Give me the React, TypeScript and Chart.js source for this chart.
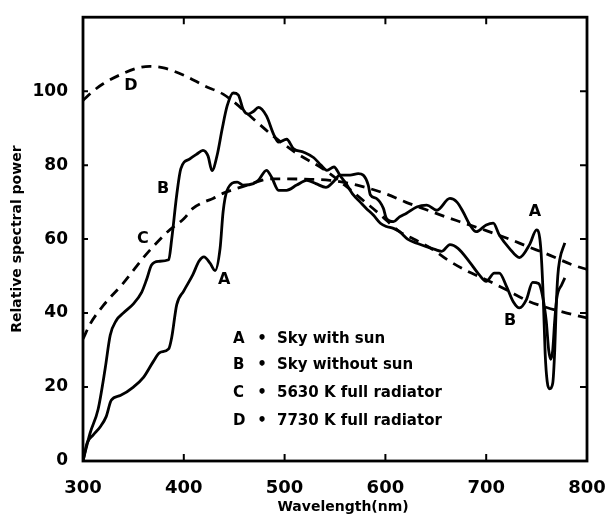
import React, { useEffect, useRef } from "react";
import { Chart, registerables } from "chart.js";

Chart.register(...registerables);

// Curve A: sky with sun
const aWave = [300, 304, 310, 317, 323, 328, 337, 350, 360, 370, 376, 385, 388, 393, 400, 409, 415, 420, 426, 431, 436, 439, 443, 453, 459, 469, 474, 482, 487, 494, 502, 512, 522, 531, 541, 548, 555, 565, 573, 578, 583, 585, 591, 598, 601, 608, 614, 621, 631, 641, 651, 664, 671, 677, 684, 690, 700, 707, 713, 723, 733, 743, 750, 754, 756.5, 758.5, 760.5, 763, 766, 768, 769.5, 771, 773, 778];
const aPower = [0, 4.8, 7, 9.2, 12, 16.4, 17.7, 20, 22.6, 27, 29.3, 30.3, 33.4, 42.3, 46, 50.4, 54, 55.2, 53.5, 51.5, 57.5, 67.4, 73.2, 75.4, 74.6, 75, 75.9, 78.6, 76.8, 73.2, 73.2, 74.6, 75.9, 75, 74, 75.4, 77.3, 77.3, 77.7, 77.3, 74.6, 72, 71, 68.3, 65.6, 64.7, 66, 67, 68.7, 69.2, 67.8, 71, 70, 67.4, 63.8, 62, 63.8, 64.3, 61.1, 57.5, 55, 58.5, 62.5, 58, 45, 29, 21.5, 19.5, 21, 30, 42, 50, 54.5, 59];

// Curve B: sky without sun
const bWave = [300, 307, 315, 322, 327, 333, 340, 350, 358, 363, 368, 375, 385, 388, 393, 397, 406, 413, 419, 424, 428, 433, 438, 443, 449, 454, 459, 464, 469, 474, 482, 489, 494, 502, 509, 519, 529, 536, 542, 549, 555, 560, 568, 575, 581, 588, 595, 601, 608, 614, 622, 632, 649, 656, 664, 672, 683, 693, 700, 708, 713, 720, 727, 733, 740, 746, 752, 756, 759.5, 762, 764, 766, 768, 770, 775, 778];
const bPower = [0, 7.5, 14, 25, 34, 38, 40, 42.5, 45.5, 49, 53, 54, 54.4, 60, 72, 79, 81.7, 83, 84, 82.5, 78.5, 82.6, 89.7, 96, 99.5, 99, 95, 93.8, 94.5, 95.6, 93.3, 88.4, 86.2, 87, 84.4, 83.5, 82, 80, 78.6, 79.5, 77.2, 75.4, 72, 70, 68.3, 66.5, 64.3, 63.4, 62.9, 62, 60, 58.8, 57.2, 56.7, 58.5, 57.5, 54, 50.4, 48.6, 50.8, 50.8, 47.3, 43, 41.4, 43.7, 48.3, 48, 44.5, 38, 30, 27.5, 30, 38, 44, 47.7, 49.5];

// Curve C: 5630 K full radiator
const cWave = [300, 307, 320, 340, 360, 368, 384, 400, 409, 420, 429, 440, 460, 487, 500, 520, 545, 560, 572, 600, 620, 640, 660, 674, 700, 723, 741, 760, 786, 800];
const cPower = [33, 37, 42, 48.1, 55, 57.5, 62, 65.5, 68.3, 70, 71, 72.5, 74.3, 76.3, 76.3, 76.2, 75.9, 75.3, 74.6, 72.3, 70, 68, 66, 64.7, 62.3, 60, 58, 56, 53, 51.8];

// Curve D: 7730 K full radiator
const dWave = [300, 310, 320, 340, 355, 366, 380, 400, 411, 420, 439, 450, 471, 488, 500, 513, 538, 560, 580, 595, 614, 628, 647, 661, 680, 700, 720, 742, 760, 780, 800];
const dPower = [97.5, 100, 102, 104.8, 106.3, 106.7, 106.3, 104.3, 102.8, 101.5, 99.2, 97, 92, 88, 85.5, 83, 79, 74.5, 70, 66.6, 62, 60, 57.2, 54.5, 51.5, 49, 46.3, 43.2, 41.5, 40, 38.7];

const xTicks = [300, 400, 500, 600, 700, 800];
const yTicks = [0, 20, 40, 60, 80, 100];

const legendKeys = ["A", "B", "C", "D"];
const legendTexts = ["Sky with sun", "Sky without sun", "5630 K full radiator", "7730 K full radiator"];

// curve letter labels (letter, wavelength, power)
const curveLetters = ["D", "C", "B", "A", "A", "B"];
const curveLetterWave = [347.6, 359.5, 379.4, 440, 748.4, 723.6];
const curveLetterPower = [101.5, 60.1, 73.6, 49.1, 67.4, 37.9];

// legend anchor (wavelength / power)
const legendKeyWave = 448.8;
const legendDotWave = 477.6;
const legendTextWave = 492.4;
const legendRowPower = [33, 25.8, 18.3, 10.7];

// x title centre (wavelength)
const xTitleWave = 558;

const FONT = "'DejaVu Sans', sans-serif";

const toPts = (xs: number[], ys: number[]) => xs.map((x, i) => ({ x, y: ys[i] }));

const framePlugin = {
  id: "frameAndText",
  afterDatasetsDraw(chart: any) {
    const { ctx, chartArea, scales } = chart;
    const xs = scales.x;
    const ys = scales.y;
    const { left, right, top, bottom } = chartArea;
    ctx.save();
    ctx.strokeStyle = "#000";
    ctx.lineWidth = 2.8;
    ctx.lineJoin = "miter";
    ctx.strokeRect(left, top, right - left, bottom - top);
    ctx.lineWidth = 2;
    const tl = 7;
    ctx.beginPath();
    xTicks.forEach((v) => {
      if (v === xs.min || v === xs.max) return;
      const px = xs.getPixelForValue(v);
      ctx.moveTo(px, bottom);
      ctx.lineTo(px, bottom - tl);
      ctx.moveTo(px, top);
      ctx.lineTo(px, top + tl);
    });
    yTicks.forEach((v) => {
      if (v === ys.min) return;
      const py = ys.getPixelForValue(v);
      ctx.moveTo(left, py);
      ctx.lineTo(left + 5, py);
      ctx.moveTo(right, py);
      ctx.lineTo(right - tl, py);
    });
    ctx.stroke();

    ctx.fillStyle = "#000";
    ctx.font = `bold 16px ${FONT}`;
    ctx.textAlign = "center";
    ctx.textBaseline = "middle";
    curveLetters.forEach((t, i) => {
      ctx.fillText(t, xs.getPixelForValue(curveLetterWave[i]), ys.getPixelForValue(curveLetterPower[i]));
    });

    ctx.font = `bold 15px ${FONT}`;
    legendKeys.forEach((k, i) => {
      const py = ys.getPixelForValue(legendRowPower[i]);
      ctx.textAlign = "left";
      ctx.fillText(k, xs.getPixelForValue(legendKeyWave), py);
      ctx.textAlign = "center";
      ctx.fillText("•", xs.getPixelForValue(legendDotWave), py);
      ctx.textAlign = "left";
      ctx.fillText(legendTexts[i], xs.getPixelForValue(legendTextWave), py);
    });

    ctx.font = `bold 14px ${FONT}`;
    ctx.textAlign = "center";
    ctx.textBaseline = "middle";
    ctx.fillText("Wavelength(nm)", xs.getPixelForValue(xTitleWave), 507);
    ctx.restore();
  },
};

export default function App() {
  const ref = useRef<HTMLCanvasElement | null>(null);
  useEffect(() => {
    if (!ref.current) return;
    const solid = { borderColor: "#000", borderWidth: 2.8, pointRadius: 0, fill: false, cubicInterpolationMode: "monotone" as const };
    const dashed = { ...solid, borderDash: [10, 7] };
    const chart = new Chart(ref.current, {
      type: "line",
      data: {
        datasets: [
          { label: "A", data: toPts(aWave, aPower), ...solid },
          { label: "B", data: toPts(bWave, bPower), ...solid },
          { label: "C", data: toPts(cWave, cPower), ...dashed },
          { label: "D", data: toPts(dWave, dPower), ...dashed },
        ],
      },
      options: {
        animation: false,
        responsive: false,
        maintainAspectRatio: false,
        devicePixelRatio: 1,
        parsing: false,
        layout: { padding: { left: 0, right: 29, top: 13, bottom: 0 } },
        plugins: { legend: { display: false }, tooltip: { enabled: false } },
        scales: {
          x: {
            type: "linear",
            min: 300,
            max: 800,
            grid: { display: false },
            border: { display: false },
            afterBuildTicks: (s: any) => {
              s.ticks = xTicks.map((v) => ({ value: v }));
            },
            afterFit: (s: any) => {
              s.height = 60;
            },
            ticks: {
              color: "#000",
              padding: 9,
              maxRotation: 0,
              font: { family: FONT, size: 18, weight: "bold" },
            },
            title: { display: false },
          },
          y: {
            type: "linear",
            min: 0,
            max: 120,
            grid: { display: false },
            border: { display: false },
            afterBuildTicks: (s: any) => {
              s.ticks = yTicks.map((v) => ({ value: v }));
            },
            afterFit: (s: any) => {
              s.width = 83;
            },
            ticks: {
              color: "#000",
              padding: 7,
              font: { family: FONT, size: 17, weight: "bold" },
            },
            title: {
              display: true,
              text: "Relative spectral power",
              color: "#000",
              font: { family: FONT, size: 14, weight: "bold" },
              padding: { top: 9, bottom: 0 },
            },
          },
        },
      },
      plugins: [framePlugin],
    });
    return () => chart.destroy();
  }, []);
  return (
    <div style={{ position: "fixed", left: 0, top: 0, width: 616, height: 521, background: "#fff" }}>
      <canvas ref={ref} width={616} height={521} style={{ width: 616, height: 521, display: "block" }} />
    </div>
  );
}
